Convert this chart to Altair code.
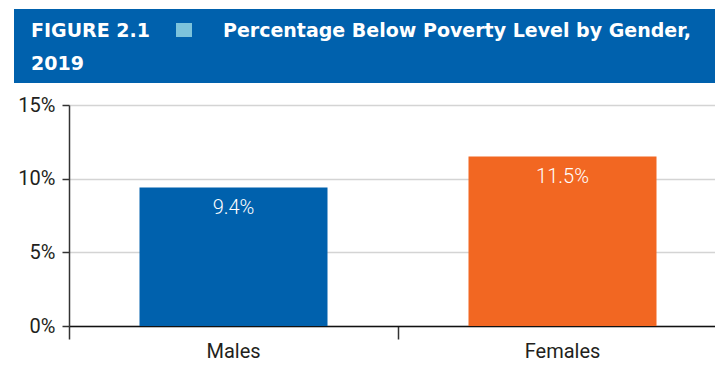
import altair as alt
import pandas as pd

categories = ["Males", "Females"]
values = [9.4, 11.5]
value_labels = ["9.4%", "11.5%"]
bar_colors = ["#0061AD", "#F26722"]
y_ticks = [0, 5, 10, 15]

title_fig = "FIGURE 2.1"
title_main = "Percentage Below Poverty Level by Gender,"
title_line2 = "2019"

df = pd.DataFrame({"cat": categories, "val": values, "lab": value_labels})
one = pd.DataFrame({"k": [0]})

FONT = "Roboto"
TFONT = "DejaVu Sans"
BLUE = "#0061AD"

x_enc = alt.X("cat:N", sort=categories,
              scale=alt.Scale(range=[0, 658], paddingInner=0, paddingOuter=0),
              axis=alt.Axis(title=None, bandPosition=0, labelAngle=0,
                            tickSize=13, tickColor="#333333", tickWidth=1.5,
                            domainColor="#111111", domainWidth=1.5,
                            labelFont=FONT, labelFontSize=20, labelColor="#231f20",
                            labelPadding=2))
y_enc = alt.Y("val:Q", scale=alt.Scale(domain=[0, 15], nice=False),
              axis=alt.Axis(title=None, values=y_ticks, labelExpr="datum.value + '%'",
                            tickSize=7, tickColor="#333333", tickWidth=1.5,
                            domainColor="#333333", domainWidth=1.5,
                            grid=True, gridColor="#d4d4d4", gridWidth=1.5,
                            labelFont=FONT, labelFontSize=20, labelColor="#231f20",
                            labelPadding=7))

bars = alt.Chart(df).mark_bar(width=188).encode(
    x=x_enc, y=y_enc,
    color=alt.Color("cat:N", sort=categories,
                    scale=alt.Scale(domain=categories, range=bar_colors), legend=None),
)

bar_text = alt.Chart(df).mark_text(baseline="top", dy=10, font=FONT, fontSize=20,
                                   color="#ffffff", fontWeight=300).encode(
    x=alt.X("cat:N", sort=categories), y="val:Q", text="lab:N"
)

banner = alt.Chart(one).mark_rect(color=BLUE).encode(
    x=alt.value(-55), x2=alt.value(646), y=alt.value(-96), y2=alt.value(-22)
)
square = alt.Chart(one).mark_rect(color="#7CC3DC").encode(
    x=alt.value(107), x2=alt.value(123), y=alt.value(-82), y2=alt.value(-68)
)
t1 = alt.Chart(one).mark_text(align="left", baseline="alphabetic", font=TFONT,
                              fontSize=19, fontWeight="bold", color="white").encode(
    x=alt.value(-38), y=alt.value(-68), text=alt.value(title_fig)
)
t2 = alt.Chart(one).mark_text(align="left", baseline="alphabetic", font=TFONT,
                              fontSize=19, fontWeight="bold", color="white").encode(
    x=alt.value(154), y=alt.value(-68), text=alt.value(title_main)
)
t3 = alt.Chart(one).mark_text(align="left", baseline="alphabetic", font=TFONT,
                              fontSize=19, fontWeight="bold", color="white").encode(
    x=alt.value(-38), y=alt.value(-35), text=alt.value(title_line2)
)

chart = alt.layer(bars, bar_text, banner, square, t1, t2, t3).properties(
    width=646, height=221,
    autosize=alt.AutoSizeParams(type="none"),
    padding={"left": 69, "top": 105, "right": 0, "bottom": 54},
    background="white",
).configure_view(stroke=None)

chart.save("out.html", embed_options={"renderer": "svg", "actions": False})
